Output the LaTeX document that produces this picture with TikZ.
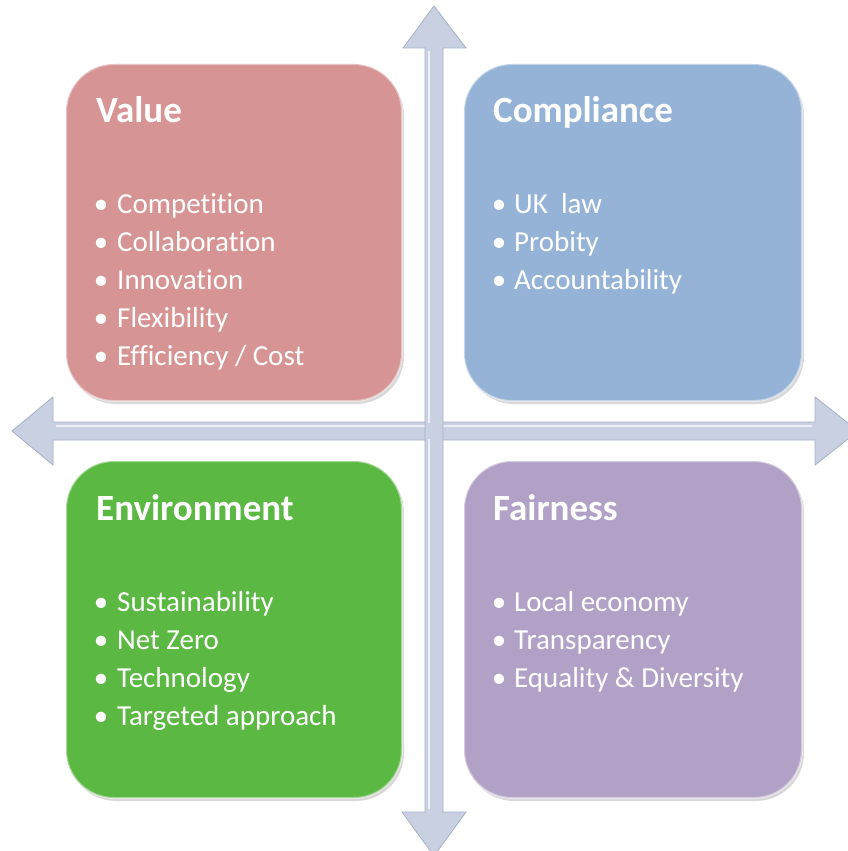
\documentclass[tikz,border=0pt]{standalone}
\usepackage{fontspec}
\setmainfont{Carlito}[Ligatures=CommonOff]
\usetikzlibrary{shadows}
\definecolor{valuecol}{RGB}{214,149,148}
\definecolor{compcol}{RGB}{149,179,215}
\definecolor{envcol}{RGB}{91,185,67}
\definecolor{faircol}{RGB}{178,161,199}
\definecolor{axisfill}{RGB}{200,208,225}
\definecolor{axisedge}{RGB}{165,176,200}
\tikzset{
  quad/.style={rounded corners=48pt, draw=white, draw opacity=0.45, line width=2pt,
    drop shadow={opacity=0.3, shadow xshift=2pt, shadow yshift=-3pt}},
  title/.style={anchor=base west, text=white, font=\fontsize{37}{40}\selectfont\bfseries, inner sep=0pt},
  item/.style={anchor=base west, text=white, font=\fontsize{29}{34}\selectfont, inner sep=0pt},
  dot/.style={anchor=base, text=white, font=\fontsize{29}{34}\selectfont, inner sep=0pt},
  axis/.style={fill=axisfill, draw=axisedge, line width=0.8pt, line join=miter},
  gloss/.style={white, opacity=0.7, line width=2pt},
}
\begin{document}
\begin{tikzpicture}[x=1pt,y=-1pt]
\useasboundingbox (0,0) rectangle (848,851);
\fill[white] (0,0) rectangle (848,851);
% axes
\draw[axis] (53,422) -- (815,422) -- (815,397) -- (858,431) -- (815,465) -- (815,440)
  -- (53,440) -- (53,465) -- (12,431) -- (53,397) -- cycle;
\draw[gloss] (56,426) -- (812,426);
\draw[axis] (425,48) -- (403,48) -- (434,6) -- (466,48) -- (443,48) -- (443,812) -- (466,812)
  -- (434,856) -- (402,812) -- (425,812) -- cycle;
\draw[gloss] (429,51) -- (429,809);
\fill[axisfill] (426,423) rectangle (442,439);
% boxes
\path[quad, fill=valuecol] (66,64) rectangle (402,401);
\path[quad, fill=compcol] (464,64) rectangle (802,401);
\path[quad, fill=envcol] (66,461) rectangle (402,798);
\path[quad, fill=faircol] (464,461) rectangle (802,798);
% Value
\node[title] (vt) at (96,122) {Value};
\foreach \t [count=\i] in {Competition,Collaboration,Innovation,Flexibility,Efficiency / Cost}{
  \node[dot] (vb\i) at (101,{213+38*(\i-1)}) {•};
  \node[item] (vi\i) at (117,{213+38*(\i-1)}) {\t};
}
% Compliance
\node[title] (ct) at (493,122) {Compliance};
\foreach \t [count=\i] in {UK\ \ law,Probity,Accountability}{
  \node[dot] (cb\i) at (499,{213+38*(\i-1)}) {•};
  \node[item] (ci\i) at (514,{213+38*(\i-1)}) {\t};
}
% Environment
\node[title] (et) at (96,520) {Environment};
\foreach \t [count=\i] in {Sustainability,Net Zero,Technology,Targeted approach}{
  \node[dot] (eb\i) at (101,{611+38*(\i-1)}) {•};
  \node[item] (ei\i) at (117,{611+38*(\i-1)}) {\t};
}
% Fairness
\node[title] (ft) at (493,520) {Fairness};
\foreach \t [count=\i] in {Local economy,Transparency,Equality \& Diversity}{
  \node[dot] (fb\i) at (499,{611+38*(\i-1)}) {•};
  \node[item] (fi\i) at (514,{611+38*(\i-1)}) {\t};
}
\end{tikzpicture}
\end{document}
